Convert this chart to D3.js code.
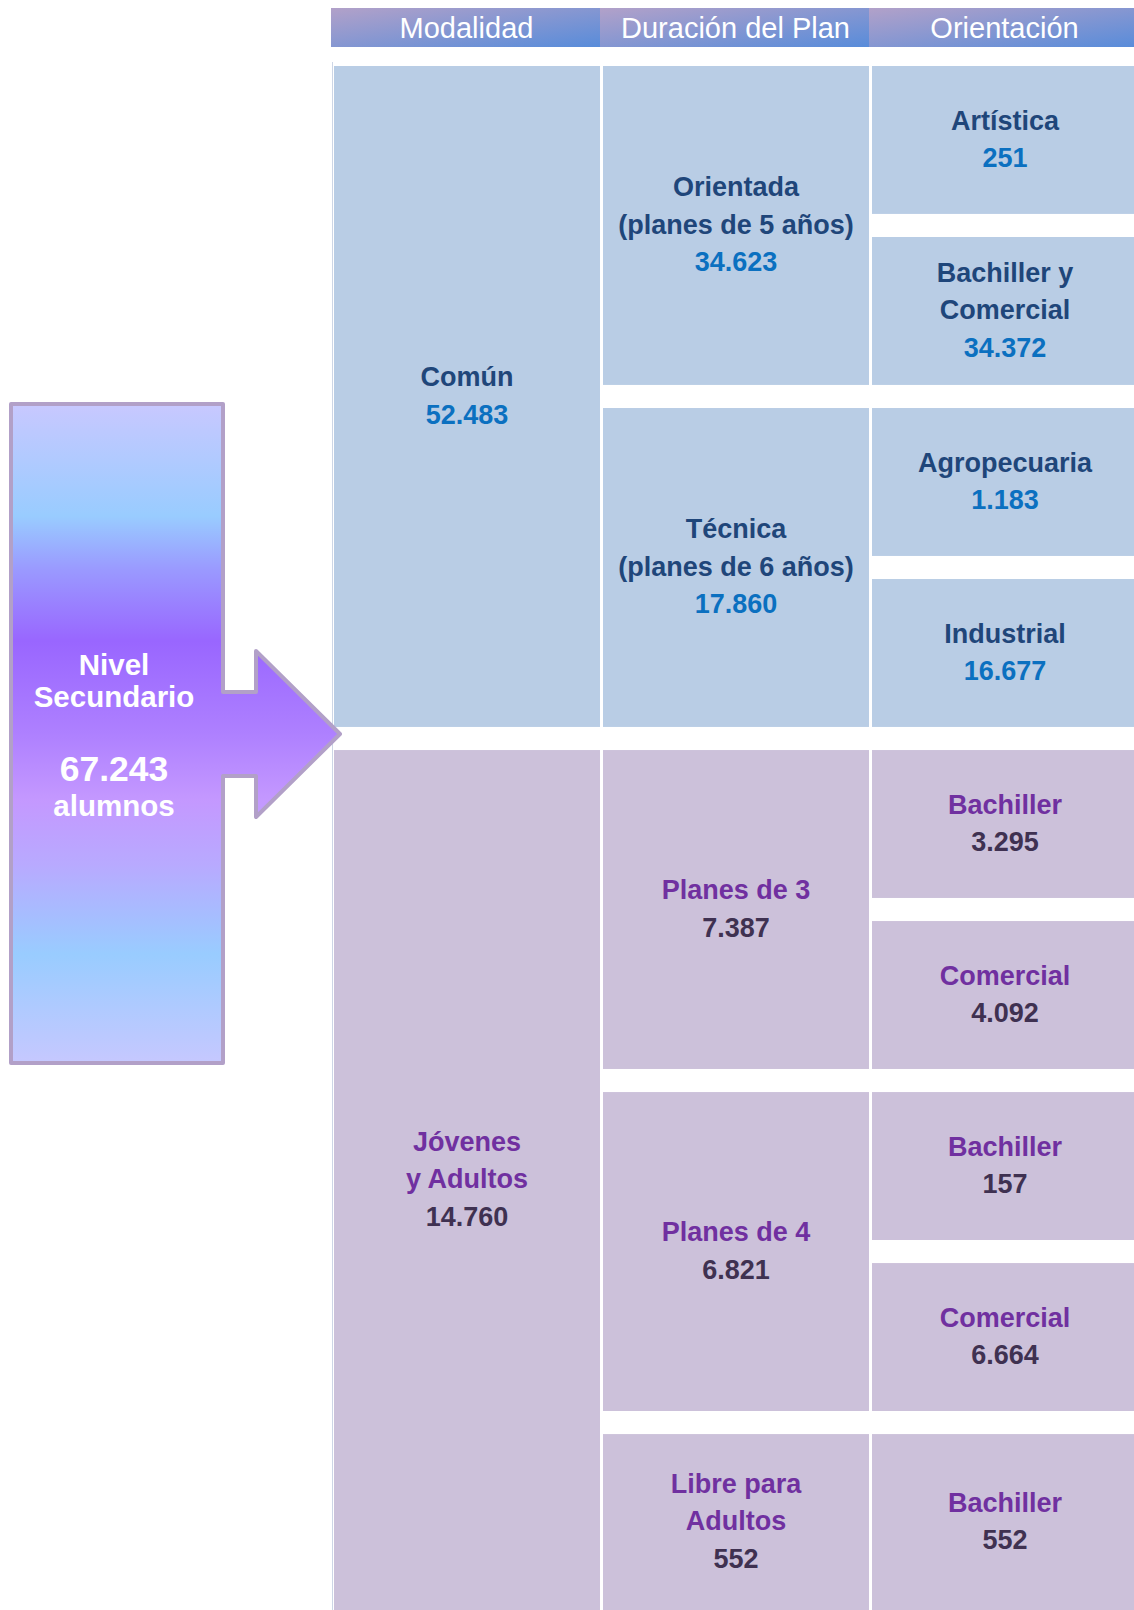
<!DOCTYPE html>
<html lang="es">
<head>
<meta charset="utf-8">
<title>Nivel Secundario</title>
<script src="https://d3js.org/d3.v7.min.js"></script>
<style>
  body { margin: 0; background: #fff; }
  svg { display: block; font-family: "Liberation Sans", Arial, sans-serif; }
</style>
</head>
<body>
<script>
// column headers
const headers = ["Modalidad", "Duración del Plan", "Orientación"];

// level 1: modalidad
const modalidad = ["Común", "Jóvenes\ny Adultos"];
const modalidadValues = [52483, 14760];

// level 2: plan (parent = index into modalidad)
const plan = ["Orientada\n(planes de 5 años)", "Técnica\n(planes de 6 años)", "Planes de 3", "Planes de 4", "Libre para\nAdultos"];
const planParent = [0, 0, 1, 1, 1];
const planValues = [34623, 17860, 7387, 6821, 552];

// level 3: orientacion (parent = index into plan)
const orientacion = ["Artística", "Bachiller y\nComercial", "Agropecuaria", "Industrial", "Bachiller", "Comercial", "Bachiller", "Comercial", "Bachiller"];
const orientacionParent = [0, 0, 1, 1, 2, 2, 3, 3, 4];
const orientacionValues = [251, 34372, 1183, 16677, 3295, 4092, 157, 6664, 552];

const total = 67243;

const W = 1134, H = 1610;
const fmt = d3.formatLocale({ decimal: ",", thousands: ".", grouping: [3], currency: ["$", ""] }).format(",d");

// colour schemes per modalidad
const scheme = [
  { fill: "#b9cde5", label: "#1f467a", value: "#0b70c0" },
  { fill: "#ccc1da", label: "#7030a0", value: "#3f3151" }
];

// build hierarchy
const root = d3.hierarchy({
  name: "root",
  children: modalidad.map((m, i) => ({
    name: m, value: modalidadValues[i], mod: i,
    children: plan.map((p, j) => ({ p, j })).filter(o => planParent[o.j] === i).map(o => ({
      name: o.p, value: planValues[o.j], mod: i,
      children: orientacion.map((r, k) => ({ r, k })).filter(q => orientacionParent[q.k] === o.j).map(q => ({
        name: q.r, value: orientacionValues[q.k], mod: i, leaf: q.k
      }))
    }))
  }))
});

const leaves = root.leaves();

const x = d3.scaleBand().domain(headers).range([331, 1138]).padding(0);
const y = d3.scaleBand().domain(d3.range(leaves.length)).range([66, 1582]).paddingInner(0.135);

const svg = d3.select("body").append("svg").attr("width", W).attr("height", H);
const defs = svg.append("defs");

const hg = defs.append("linearGradient").attr("id", "hdr")
  .attr("x1", 0).attr("y1", 0).attr("x2", 1).attr("y2", 1);
hg.append("stop").attr("offset", 0).attr("stop-color", "#b2a1c9");
hg.append("stop").attr("offset", 1).attr("stop-color", "#588cda");

const ag = defs.append("linearGradient").attr("id", "arr")
  .attr("gradientUnits", "userSpaceOnUse").attr("x1", 0).attr("y1", 404).attr("x2", 0).attr("y2", 1063);
[[0, "#c8c8ff"], [0.17, "#99ccff"], [0.25, "#9a9aff"], [0.36, "#9966ff"], [0.5, "#ae80ff"],
 [0.6, "#c498ff"], [0.7, "#b8aaff"], [0.835, "#99ccff"], [1, "#c6c8ff"]]
  .forEach(([o, c]) => ag.append("stop").attr("offset", o).attr("stop-color", c));

// header
const hdr = svg.append("g");
hdr.selectAll("rect").data(headers).join("rect")
  .attr("x", d => x(d)).attr("y", 8).attr("width", x.bandwidth()).attr("height", 39)
  .attr("fill", "url(#hdr)");
hdr.selectAll("text").data(headers).join("text")
  .attr("x", d => x(d) + x.bandwidth() / 2 + 1).attr("y", 28)
  .attr("dy", "0.35em").attr("text-anchor", "middle")
  .attr("fill", "#fff").attr("font-size", 29)
  .text(d => d);

// faint left rule of the table
svg.append("line").attr("x1", 332.5).attr("x2", 332.5).attr("y1", 62).attr("y2", H)
  .attr("stroke", "#cdd6e6").attr("stroke-width", 1);

// cells
function span(node) {
  const ls = node.leaves();
  const first = ls[0].data.leaf, last = ls[ls.length - 1].data.leaf;
  const top = y(first);
  const bottom = last === leaves.length - 1 ? H : y(last) + y.bandwidth();
  return [top, bottom];
}

const nodes = root.descendants().filter(d => d.depth > 0);
const cell = svg.append("g").selectAll("g").data(nodes).join("g");

cell.append("rect")
  .attr("x", d => x(headers[d.depth - 1]) + 3)
  .attr("width", x.bandwidth() - 3)
  .attr("y", d => span(d)[0])
  .attr("height", d => span(d)[1] - span(d)[0])
  .attr("fill", d => scheme[d.data.mod].fill);

const lineH = 37.5;
cell.each(function (d) {
  const [t, b] = span(d);
  const cx = x(headers[d.depth - 1]) + x.bandwidth() / 2 + 1.5;
  const cy = (t + b) / 2 - 1;
  const lines = d.data.name.split("\n").map(s => ({ s, kind: "label" }));
  lines.push({ s: fmt(d.data.value), kind: "value" });
  const n = lines.length;
  d3.select(this).selectAll("text").data(lines).join("text")
    .attr("x", cx)
    .attr("y", (l, i) => cy + (i - (n - 1) / 2) * lineH)
    .attr("dy", "0.35em")
    .attr("text-anchor", "middle")
    .attr("font-size", 27)
    .attr("font-weight", "bold")
    .attr("fill", l => l.kind === "label" ? scheme[d.data.mod].label : scheme[d.data.mod].value)
    .text(l => l.s);
});

// big arrow: block with arrow pointing to the table
const L = 11, R = 223, T = 404, B = 1063;
const mid = 734, stemH = 42, headH = 83, headX = 256, tipX = 340;
const arrowPath = d3.path();
arrowPath.moveTo(L, T);
arrowPath.lineTo(R, T);
arrowPath.lineTo(R, mid - stemH);
arrowPath.lineTo(headX, mid - stemH);
arrowPath.lineTo(headX, mid - headH);
arrowPath.lineTo(tipX, mid);
arrowPath.lineTo(headX, mid + headH);
arrowPath.lineTo(headX, mid + stemH);
arrowPath.lineTo(R, mid + stemH);
arrowPath.lineTo(R, B);
arrowPath.lineTo(L, B);
arrowPath.closePath();

svg.append("path").attr("d", arrowPath.toString())
  .attr("fill", "url(#arr)")
  .attr("stroke", "#b2a0c8").attr("stroke-width", 4).attr("stroke-linejoin", "round");

const arrowText = [
  { s: "Nivel", y: 665, size: 29.5 },
  { s: "Secundario", y: 697, size: 29.5 },
  { s: fmt(total), y: 769, size: 35.5 },
  { s: "alumnos", y: 806, size: 29.5 }
];
svg.append("g").selectAll("text").data(arrowText).join("text")
  .attr("x", 114).attr("y", d => d.y).attr("dy", "0.35em")
  .attr("text-anchor", "middle").attr("fill", "#fff").attr("font-weight", "bold")
  .attr("font-size", d => d.size)
  .text(d => d.s);
</script>
</body>
</html>
